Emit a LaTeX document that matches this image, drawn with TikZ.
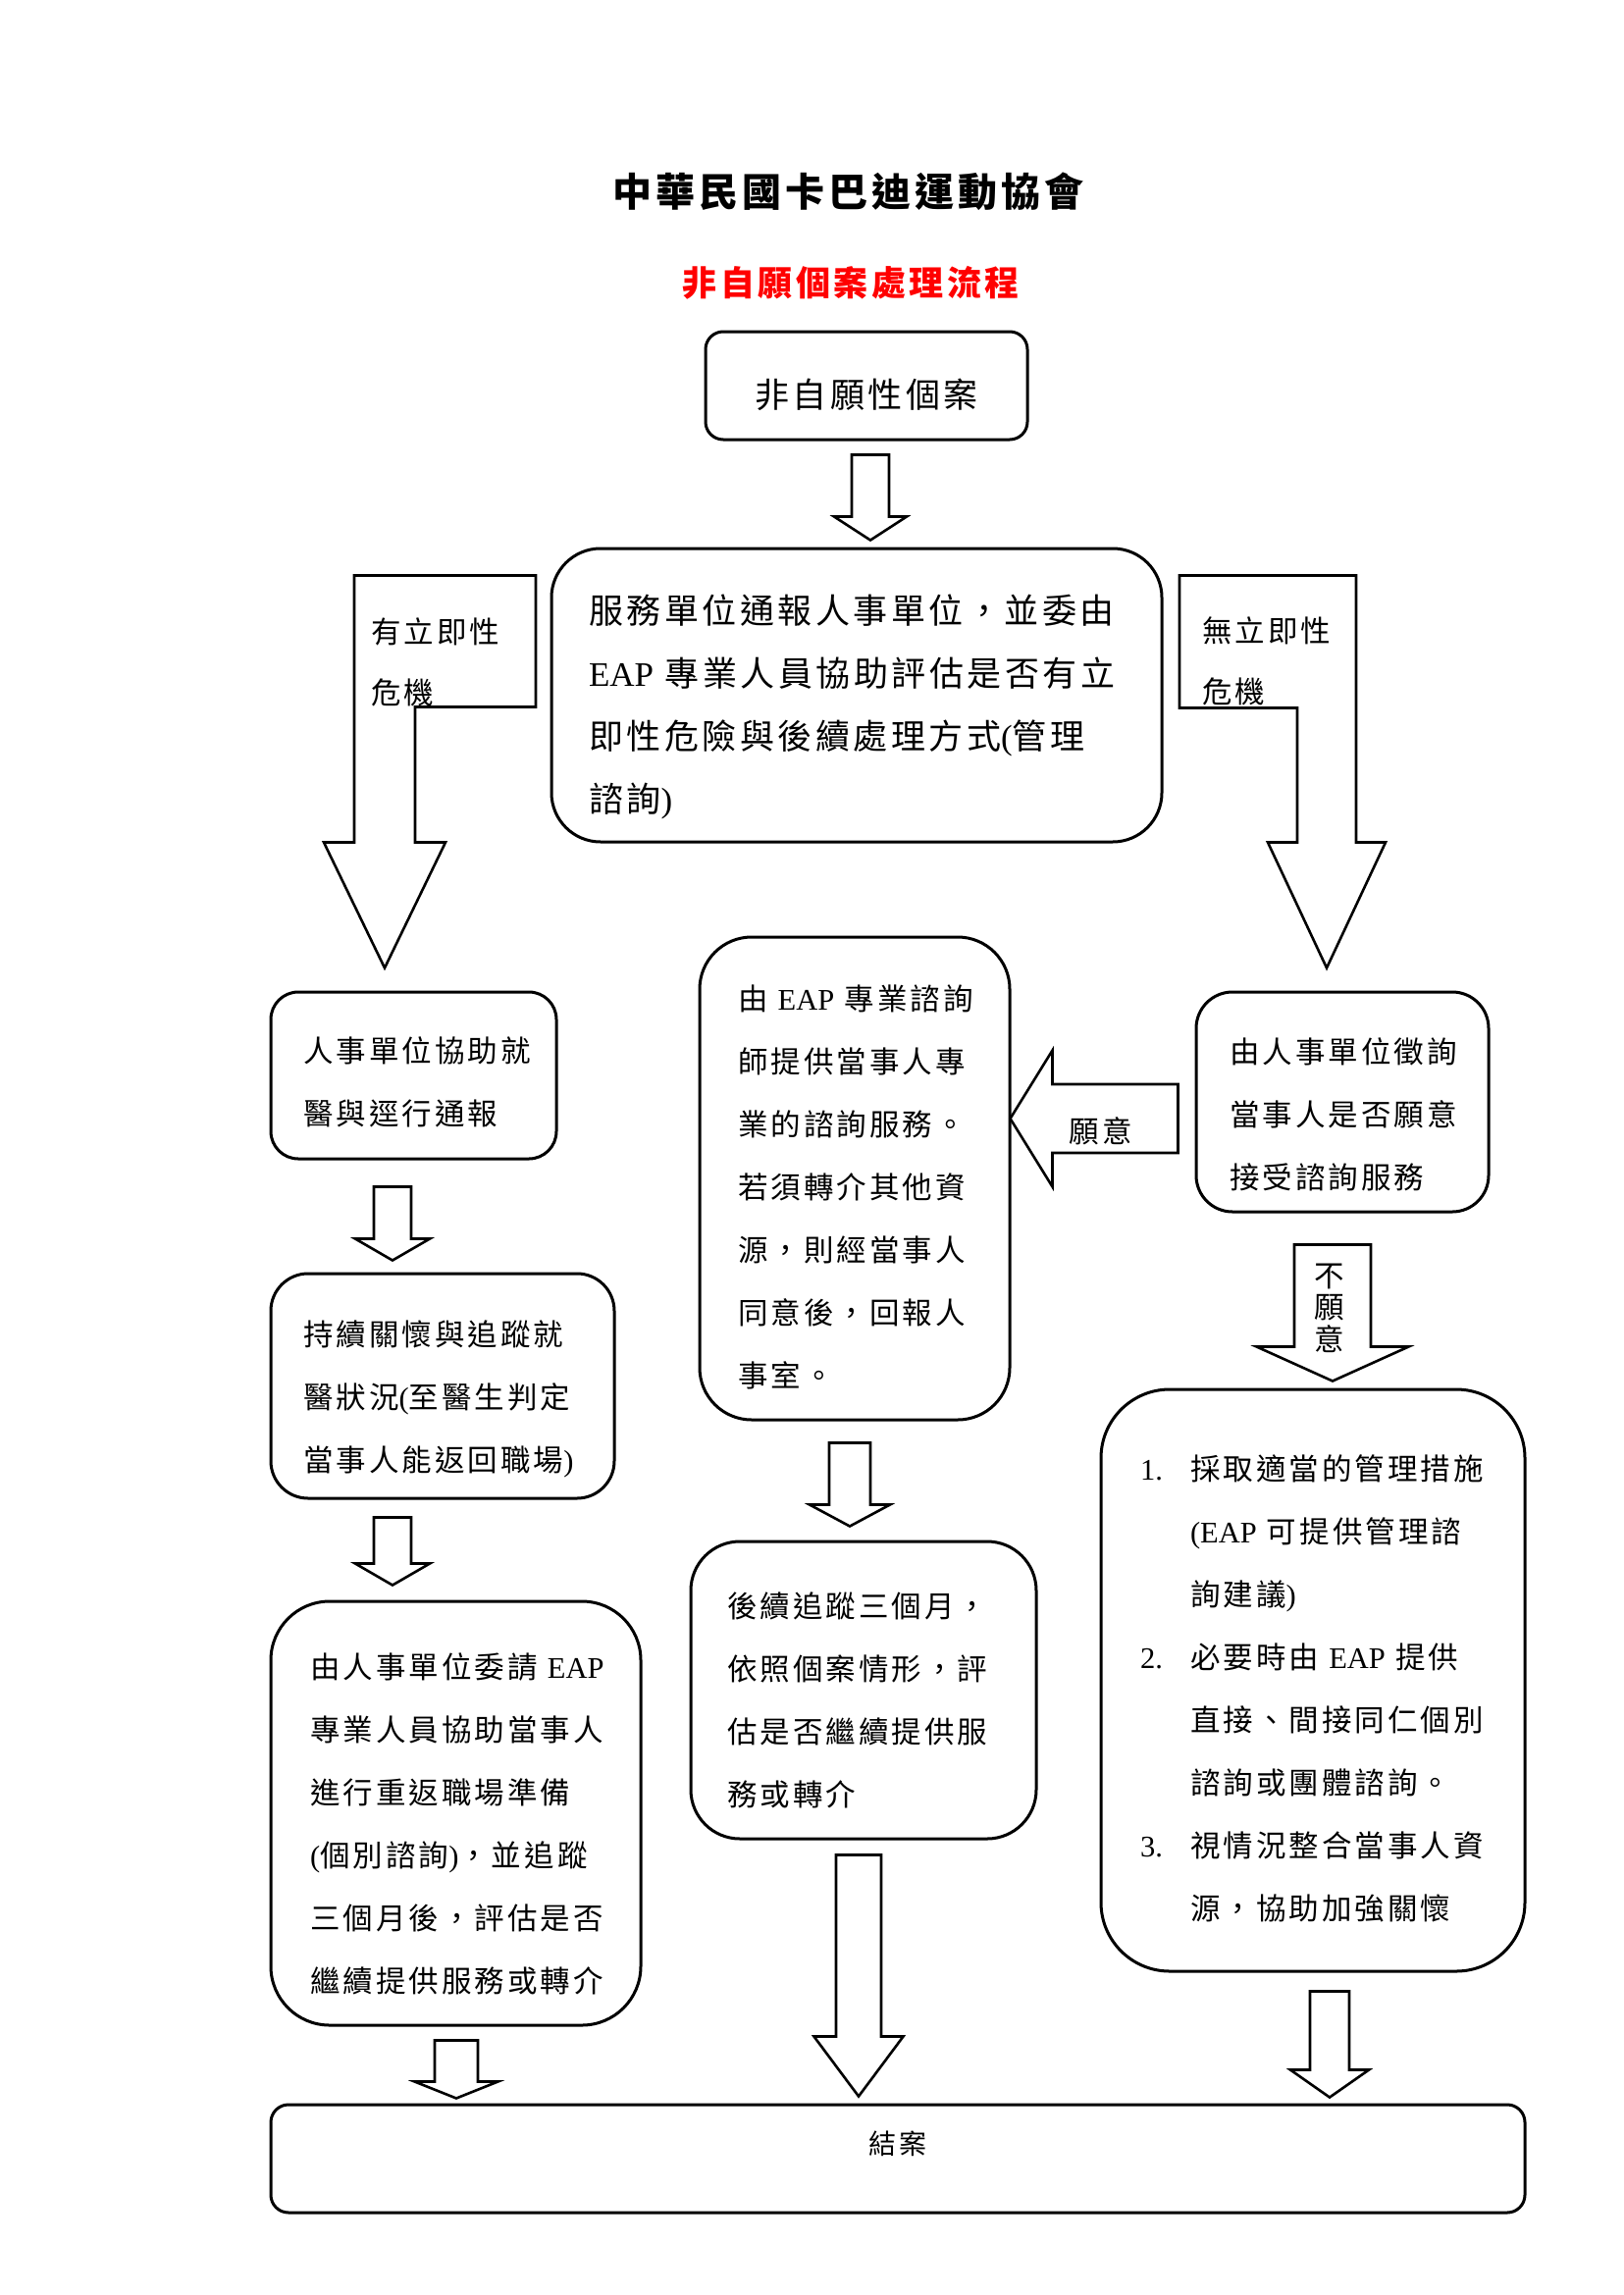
\documentclass[tikz,border=0pt]{standalone}
\usepackage{fontspec}
\setmainfont{Liberation Serif}
\newfontfamily\cjk[LetterSpace=10]{Noto Sans CJK TC}
\newfontfamily\latf{Liberation Serif}
\newcommand\lat[1]{{\latf #1}}
\usetikzlibrary{calc}
\definecolor{titlered}{RGB}{255,0,0}
% hollow block arrow pointing down: #1 start, #2 tip, #3 half shaft, #4 half head, #5 head length
\newcommand\hollowdown[5]{%
  \draw[blockarrow] let \p1=(#1), \p2=(#2) in
    (\x2-#3,\y1) -- (\x2+#3,\y1) -- (\x2+#3,\y2+#5) -- (\x2+#4,\y2+#5) --
    (\x2,\y2) -- (\x2-#4,\y2+#5) -- (\x2-#3,\y2+#5) -- cycle;}
\begin{document}
\begin{tikzpicture}[x=1pt,y=-1pt,
  box/.style={draw, line width=3pt, rounded corners=#1, inner ysep=0pt, align=left},
  txt/.style={font=\cjk\fontsize{30.5pt}{64pt}\selectfont},
  bigtxt/.style={font=\cjk\fontsize{35pt}{64pt}\selectfont},
  lbl/.style={font=\cjk\fontsize{30.5pt}{62pt}\selectfont, inner sep=0pt, align=left},
  blockarrow/.style={draw, line width=2.6pt, fill=white, line join=miter}]
\path[use as bounding box, fill=white] (0,0) rectangle (1654,2339);

% titles
\node[font=\cjk\bfseries\fontsize{40pt}{48pt}\selectfont, inner sep=0pt] (title) at (864,195) {中華民國卡巴迪運動協會};
\node[font=\cjk\bfseries\fontsize{35pt}{42pt}\selectfont, text=titlered, inner sep=0pt] (sub) at (867,288) {非自願個案處理流程};

% boxes
\node[box=18pt, bigtxt, minimum width=328pt, minimum height=110pt, inner xsep=20pt, text width=288pt, align=center, text height=49pt] (b1) at (883,393) {非自願性個案};
\node[box=50pt, bigtxt, minimum width=622pt, minimum height=299pt, inner xsep=38pt, text width=546pt, text height=53pt] (b2) at (873,708.5) {服務單位通報人事單位，並委由\\\lat{EAP}~專業人員協助評估是否有立\\即性危險與後續處理方式\lat{(}管理\\諮詢\lat{)}};

\node[box=28pt, txt, minimum width=291pt, minimum height=170pt, inner xsep=33pt, text width=225pt, text height=39pt] (L1) at (421.5,1096) {人事單位協助就\\醫與逕行通報};
\node[box=38pt, txt, minimum width=350pt, minimum height=229pt, inner xsep=33pt, text width=284pt, text height=53pt] (L2) at (451,1412.5) {持續關懷與追蹤就\\醫狀況\lat{(}至醫生判定\\當事人能返回職場\lat{)}};
\node[box=60pt, txt, minimum width=377pt, minimum height=432pt, inner xsep=40pt, text width=297pt, text height=47pt] (L3) at (464.5,1848) {由人事單位委請~\lat{EAP}\\專業人員協助當事人\\進行重返職場準備\\\lat{(}個別諮詢\lat{)}，並追蹤\\三個月後，評估是否\\繼續提供服務或轉介};

\node[box=53pt, txt, minimum width=316pt, minimum height=492pt, inner xsep=39pt, text width=238pt, text height=43pt] (C1) at (871,1201) {由~\lat{EAP}~專業諮詢\\師提供當事人專\\業的諮詢服務。\\若須轉介其他資\\源，則經當事人\\同意後，回報人\\事室。};
\node[box=50pt, txt, minimum width=352pt, minimum height=303pt, inner xsep=37pt, text width=278pt, text height=47pt] (C2) at (880,1722.5) {後續追蹤三個月，\\依照個案情形，評\\估是否繼續提供服\\務或轉介};

\node[box=37pt, txt, minimum width=298pt, minimum height=224pt, inner xsep=34pt, text width=230pt, text height=51pt] (R1) at (1368,1123) {由人事單位徵詢\\當事人是否願意\\接受諮詢服務};
\node[box=70pt, txt, minimum width=432pt, minimum height=593pt, inner xsep=40pt, text width=352pt, text height=43pt] (R2) at (1338,1712.5) {\makebox[51pt][l]{\lat{1.}}採取適當的管理措施\\\hspace*{51pt}\lat{(EAP}~可提供管理諮\\\hspace*{51pt}詢建議\lat{)}\\\makebox[51pt][l]{\lat{2.}}必要時由~\lat{EAP}~提供\\\hspace*{51pt}直接、間接同仁個別\\\hspace*{51pt}諮詢或團體諮詢。\\\makebox[51pt][l]{\lat{3.}}視情況整合當事人資\\\hspace*{51pt}源，協助加強關懷};

\node[box=18pt, font=\cjk\fontsize{28pt}{34pt}\selectfont, minimum width=1278pt, minimum height=110pt, align=center, text height=24pt, text depth=33pt] (End) at (915,2200) {結案};

% connector end points
\coordinate (a1s) at ($(b1.south)+(4,14)$);
\coordinate (a1t) at ($(b2.north)+(14,-7)$);
\coordinate (a2s) at ($(L1.south)+(-21.5,27)$);
\coordinate (a2t) at ($(L2.north)+(-51,-12)$);
\coordinate (a3s) at ($(L2.south)+(-51,18)$);
\coordinate (a3t) at ($(L3.north)+(-64.5,-15)$);
\coordinate (a4s) at ($(L3.south)+(0.5,14)$);
\coordinate (a4t) at ($(L3.south |- End.north)+(0.5,-5)$);
\coordinate (a5s) at ($(C1.south)+(-5,22)$);
\coordinate (a5t) at ($(C2.north)+(-14,-14)$);
\coordinate (a6s) at ($(C2.south)+(-5,15)$);
\coordinate (a6t) at ($(C2.south |- End.north)+(-5,-7)$);
\coordinate (a7s) at ($(R2.south)+(17,19)$);
\coordinate (a7t) at ($(R2.south |- End.north)+(17,-6)$);
\coordinate (a8s) at ($(R1.south)+(-10,32)$);
\coordinate (a8t) at ($(R2.north)+(20,-7)$);
\coordinate (ys) at ($(R1.west)+(-17,17)$);
\coordinate (yt) at ($(C1.east |- R1.west)+(-1,17)$);
\coordinate (bl) at ($(L1.north)+(-29.5,-23)$);
\coordinate (br) at ($(R1.north)+(-16,-23)$);

% straight hollow arrows
\hollowdown{a1s}{a1t}{19pt}{37pt}{24pt}
\hollowdown{a2s}{a2t}{19pt}{38pt}{22pt}
\hollowdown{a3s}{a3t}{19pt}{38pt}{22pt}
\hollowdown{a4s}{a4t}{22pt}{42.5pt}{17pt}
\hollowdown{a5s}{a5t}{21pt}{41pt}{22pt}
\hollowdown{a6s}{a6t}{23pt}{45.5pt}{61pt}
\hollowdown{a7s}{a7t}{20pt}{40pt}{28pt}
\hollowdown{a8s}{a8t}{39pt}{77.5pt}{35pt}

% left-pointing arrow (willing)
\draw[blockarrow] let \p1=(ys), \p2=(yt) in
  (\x1,\y2+35pt) -- (\x2+43pt,\y2+35pt) -- (\x2+43pt,\y2+69.5pt) -- (\x2,\y2) --
  (\x2+43pt,\y2-69.5pt) -- (\x2+43pt,\y2-35pt) -- (\x1,\y2-35pt) -- cycle;

% bent arrows from the assessment box
\draw[blockarrow] let \p1=(bl) in
  (\x1-31pt,\y1+400pt) -- (\x1+154pt,\y1+400pt) -- (\x1+154pt,\y1+266pt) -- (\x1+31pt,\y1+266pt) --
  (\x1+31pt,\y1+128pt) -- (\x1+62pt,\y1+128pt) -- (\x1,\y1) -- (\x1-62pt,\y1+128pt) --
  (\x1-31pt,\y1+128pt) -- cycle;
\draw[blockarrow] let \p1=(br) in
  (\x1-150pt,\y1+400pt) -- (\x1+30pt,\y1+400pt) -- (\x1+30pt,\y1+128pt) -- (\x1+60pt,\y1+128pt) --
  (\x1,\y1) -- (\x1-60pt,\y1+128pt) -- (\x1-30pt,\y1+128pt) -- (\x1-30pt,\y1+265pt) --
  (\x1-150pt,\y1+265pt) -- cycle;

% arrow labels
\node[lbl, text width=150pt, anchor=base west] (tL) at (378,655) {有立即性\\危機};
\node[lbl, text width=150pt, anchor=base west] (tR) at (1225,654) {無立即性\\危機};
\node[txt, inner sep=0pt] (tY) at (1122,1153) {願意};
\node[font=\cjk\fontsize{30.5pt}{32.5pt}\selectfont, inner sep=0pt, align=center] (tN) at (1355,1333) {不\\願\\意};
\end{tikzpicture}
\end{document}
